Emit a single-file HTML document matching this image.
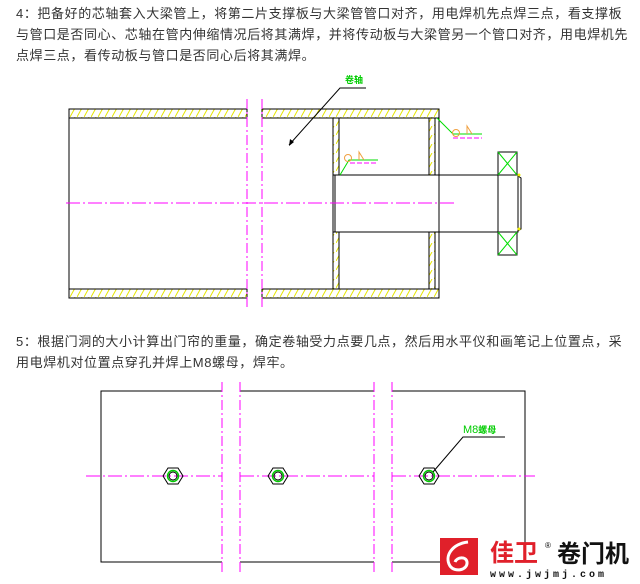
<!DOCTYPE html>
<html><head><meta charset="utf-8"><style>
body{margin:0;width:640px;height:584px;background:#fff;overflow:hidden;position:relative;font-family:"Liberation Sans","Noto Sans CJK SC",sans-serif;}
.t{position:absolute;left:16px;font-size:13px;color:#333;line-height:21px;width:616px;letter-spacing:0.6px;}
svg{position:absolute;left:0;top:0}
</style></head><body>
<div class="t" style="top:3px">4：把备好的芯轴套入大梁管上，将第二片支撑板与大梁管管口对齐，用电焊机先点焊三点，看支撑板与管口是否同心、芯轴在管内伸缩情况后将其满焊，并将传动板与大梁管另一个管口对齐，用电焊机先点焊三点，看传动板与管口是否同心后将其满焊。</div>
<div class="t" style="top:331px">5：根据门洞的大小计算出门帘的重量，确定卷轴受力点要几点，然后用水平仪和画笔记上位置点，采用电焊机对位置点穿孔并焊上M8螺母，焊牢。</div>
<svg width="640" height="584" viewBox="0 0 640 584">
<defs>
<pattern id="h" width="7" height="9" patternUnits="userSpaceOnUse"><line x1="0" y1="9" x2="5" y2="0" stroke="#e6e600" stroke-width="1"/></pattern>
</defs>
<g stroke="#000" stroke-width="1" fill="none">
<rect x="69" y="109" width="178" height="9" fill="url(#h)"/>
<rect x="262" y="109" width="177" height="9" fill="url(#h)"/>
<rect x="69" y="289" width="178" height="9" fill="url(#h)"/>
<rect x="262" y="289" width="177" height="9" fill="url(#h)"/>
<line x1="69" y1="118" x2="69" y2="289"/>
<line x1="439" y1="118" x2="439" y2="289"/>
<rect x="333" y="118" width="6" height="57" fill="url(#h)"/>
<rect x="333" y="232" width="6" height="57" fill="url(#h)"/>
<rect x="429" y="118" width="6" height="57" fill="url(#h)"/>
<rect x="429" y="232" width="6" height="57" fill="url(#h)"/>
<rect x="333" y="175" width="185" height="57" fill="#fff"/>
<line x1="335" y1="175" x2="335" y2="232"/>
<line x1="439" y1="175" x2="439" y2="232"/>
<rect x="498" y="152" width="19" height="23"/>
<rect x="498" y="232" width="19" height="23"/>
<line x1="498" y1="175" x2="498" y2="232"/>
<path d="M518 176 L521 178 L521 229 L518 231" />
</g>
<g stroke="#0d0" stroke-width="1">
<line x1="498" y1="152" x2="517" y2="175"/><line x1="517" y1="152" x2="498" y2="175"/>
<line x1="498" y1="232" x2="517" y2="255"/><line x1="517" y1="232" x2="498" y2="255"/>
<polyline points="437,118 453,134 482,134" fill="none"/>
<polyline points="340,175 349,160 378,160" fill="none"/>
</g>
<circle cx="519" cy="175" r="1.5" fill="#ee0"/><circle cx="519" cy="229" r="1.5" fill="#ee0"/>
<g stroke="#f0a040" fill="none">
<circle cx="456" cy="133" r="3.5"/><path d="M467 134 L467 126 L472 134"/>
<circle cx="348" cy="158" r="3.5"/><path d="M359 160 L359 152 L364 160"/>
</g>
<g stroke="#f0f" stroke-width="1" fill="none">
<line x1="453" y1="138" x2="482" y2="138" stroke-dasharray="5,2"/>
<line x1="350" y1="163" x2="378" y2="163" stroke-dasharray="5,2"/>
<line x1="66" y1="203" x2="455" y2="203" stroke-dasharray="14,3,2,3"/>
<line x1="247" y1="99" x2="247" y2="308" stroke-dasharray="10,3,2,3"/>
<line x1="262" y1="99" x2="262" y2="308" stroke-dasharray="10,3,2,3"/>
</g>
<g stroke="#000" fill="none"><polyline points="366,88 340,88 289,145"/></g>
<path d="M289 146 L290 139 L294 142 Z" fill="#000"/>
<text x="345" y="83" font-size="9" fill="#0c0" font-family="Liberation Sans,Noto Sans CJK SC,sans-serif" font-weight="bold">卷轴</text>

<g stroke="#000" fill="none">
<polyline points="222,391 101,391 101,562 222,562"/>
<line x1="240" y1="391" x2="374" y2="391"/>
<line x1="240" y1="562" x2="374" y2="562"/>
<polyline points="392,391 525,391 525,545"/>
<line x1="392" y1="562" x2="440" y2="562"/>
</g>
<g stroke="#f0f" fill="none">
<line x1="222" y1="382" x2="222" y2="573" stroke-dasharray="10,3,2,3"/>
<line x1="240" y1="382" x2="240" y2="573" stroke-dasharray="10,3,2,3"/>
<line x1="374" y1="382" x2="374" y2="573" stroke-dasharray="10,3,2,3"/>
<line x1="392" y1="382" x2="392" y2="573" stroke-dasharray="10,3,2,3"/>
<line x1="86" y1="476" x2="222" y2="476" stroke-dasharray="14,3,2,3"/>
<line x1="240" y1="476" x2="374" y2="476" stroke-dasharray="14,3,2,3"/>
<line x1="392" y1="476" x2="535" y2="476" stroke-dasharray="14,3,2,3"/>
</g>
<g fill="none">
<g transform="translate(173,476)"><polygon points="-10,0 -5,-8 5,-8 10,0 5,8 -5,8" stroke="#000"/><circle r="5.5" stroke="#0c0" stroke-width="1.5"/><circle r="4" stroke="#000"/></g>
<g transform="translate(278,476)"><polygon points="-10,0 -5,-8 5,-8 10,0 5,8 -5,8" stroke="#000"/><circle r="5.5" stroke="#0c0" stroke-width="1.5"/><circle r="4" stroke="#000"/></g>
<g transform="translate(429,476)"><polygon points="-10,0 -5,-8 5,-8 10,0 5,8 -5,8" stroke="#000"/><circle r="5.5" stroke="#0c0" stroke-width="1.5"/><circle r="4" stroke="#000"/></g>
<polyline points="505,437 463,437 433,472" stroke="#000"/>
</g>
<text x="463" y="433" font-size="11" fill="#0c0" font-family="Liberation Sans,Noto Sans CJK SC,sans-serif">M8<tspan font-size="9" font-weight="bold">螺母</tspan></text>
<rect x="440" y="538" width="38" height="37" fill="#e0202a"/>
<path d="M468 542 C452 544 444 556 450 566 C455 573 468 570 467 562 C466 556 457 557 455 562" stroke="#fff" stroke-width="3" fill="none"/>
<text x="490" y="561" font-size="24" font-weight="bold" fill="#e0202a" font-family="Liberation Sans,Noto Sans CJK SC,sans-serif">佳卫</text>
<text x="545" y="548" font-size="8" fill="#000">®</text>
<text x="557" y="562" font-size="24" font-weight="bold" fill="#111" font-family="Liberation Sans,Noto Sans CJK SC,sans-serif">卷门机</text>
<text x="490" y="577" font-size="10" fill="#111" letter-spacing="3" font-family="Liberation Mono,monospace" font-weight="bold">www.jwjmj.com</text>
</svg>
</body></html>
